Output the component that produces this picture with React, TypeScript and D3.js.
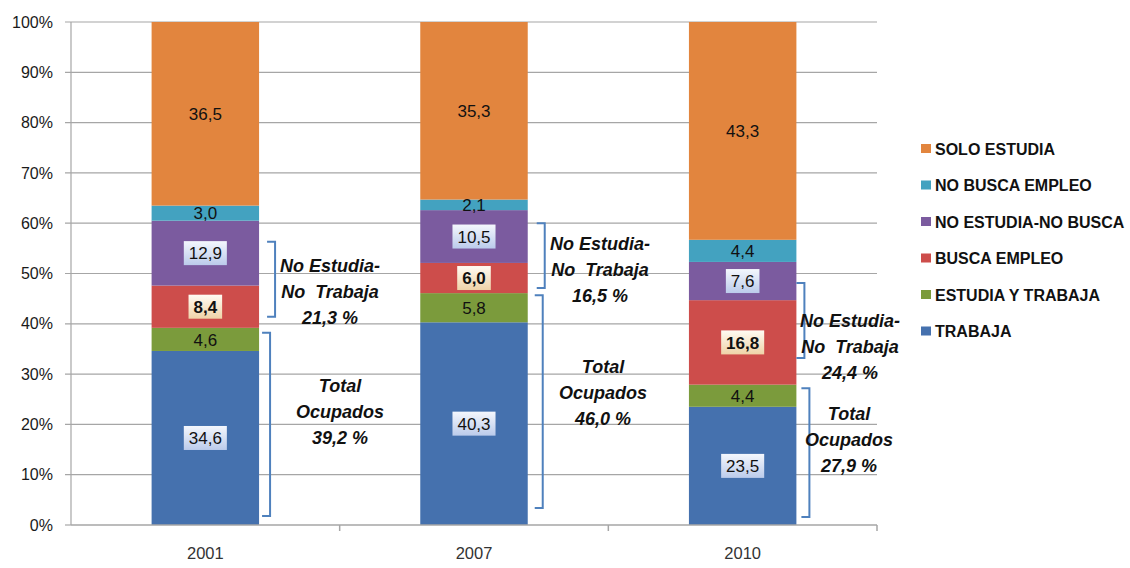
import React from "react";
import * as d3 from "d3";

// categories and series (bottom to top of each bar)
const years = ["2001", "2007", "2010"];
const seriesNames = [
  "TRABAJA",
  "ESTUDIA Y TRABAJA",
  "BUSCA EMPLEO",
  "NO ESTUDIA-NO BUSCA",
  "NO BUSCA EMPLEO",
  "SOLO ESTUDIA",
];
const trabaja = [34.6, 40.3, 23.5];
const estudiaYTrabaja = [4.6, 5.8, 4.4];
const buscaEmpleo = [8.4, 6.0, 16.8];
const noEstudiaNoBusca = [12.9, 10.5, 7.6];
const noBuscaEmpleo = [3.0, 2.1, 4.4];
const soloEstudia = [36.5, 35.3, 43.3];
const totalOcupados = [39.2, 46.0, 27.9];
const noEstudiaNoTrabaja = [21.3, 16.5, 24.4];
const yTicks = [0, 10, 20, 30, 40, 50, 60, 70, 80, 90, 100];

const colors = ["#4571AE", "#7B9B3C", "#CD4D4B", "#7B5B9F", "#43A2C0", "#E2853E"];
// label look per series: plain / blue box / cream bold box
const labelKind = ["blue", "plain", "cream", "blue", "plain", "plain"];

// bracket annotations (percent ranges on the y scale, text centre, x offsets)
const braceLayout = [
  { ni: [41.4, 56.3], oc: [1.8, 38.2], niX: 16, ocX: 11, niText: [330, 46.3], ocText: [340, 22.5] },
  { ni: [47.1, 60.0], oc: [3.4, 45.7], niX: 17, ocX: 15, niText: [600, 50.7], ocText: [603, 26.2] },
  { ni: [33.2, 48.1], oc: [1.6, 27.2], niX: 8, ocX: 13, niText: [850, 35.4], ocText: [849, 16.9] },
];

const W = 1130;
const H = 568;
const margin = { top: 22, left: 71, right: 253, bottom: 43 };
const font = "'Liberation Sans', Arial, sans-serif";

const fmt = (v: number) => d3.format(".1f")(v).replace(".", ",");

export default function App() {
  const x = d3
    .scaleBand()
    .domain(years)
    .range([margin.left, W - margin.right])
    .paddingInner(0.6)
    .paddingOuter(0.3);
  const y = d3.scaleLinear().domain([0, 100]).range([H - margin.bottom, margin.top]);

  const rows = years.map((yr, i) => ({
    year: yr,
    TRABAJA: trabaja[i],
    "ESTUDIA Y TRABAJA": estudiaYTrabaja[i],
    "BUSCA EMPLEO": buscaEmpleo[i],
    "NO ESTUDIA-NO BUSCA": noEstudiaNoBusca[i],
    "NO BUSCA EMPLEO": noBuscaEmpleo[i],
    "SOLO ESTUDIA": soloEstudia[i],
  }));
  const stacked = d3.stack<any>().keys(seriesNames)(rows);

  const step = x.step();
  const bandEdges = years.map((yr) => (x(yr) as number) - (step - x.bandwidth()) / 2);
  bandEdges.push(bandEdges[bandEdges.length - 1] + step);
  const xEnd = bandEdges[bandEdges.length - 1];
  const y0 = y(0);

  return (
    <svg
      width={W}
      height={H}
      style={{ position: "absolute", left: 0, top: 0, background: "#fff" }}
      fontFamily={font}
    >
      <defs>
        <linearGradient id="gBlue" x1="0" y1="0" x2="0" y2="1">
          <stop offset="0" stopColor="#F4F7FD" />
          <stop offset="1" stopColor="#BBCBEB" />
        </linearGradient>
        <linearGradient id="gCream" x1="0" y1="0" x2="0" y2="1">
          <stop offset="0" stopColor="#FFFBF3" />
          <stop offset="1" stopColor="#EFD3A8" />
        </linearGradient>
      </defs>

      {/* gridlines */}
      {yTicks.map((t) => (
        <g key={t}>
          <line x1={margin.left - 6} x2={t === 0 ? margin.left : xEnd} y1={y(t)} y2={y(t)} stroke="#A6A6A6" strokeWidth={1.2} />
          <text x={53} y={y(t)} dy="0.35em" textAnchor="end" fontSize={16} fill="#1a1a1a">
            {t}%
          </text>
        </g>
      ))}
      <line x1={margin.left} x2={margin.left} y1={y(100)} y2={y0} stroke="#A6A6A6" strokeWidth={1.2} />

      {/* bars */}
      {stacked.map((s, si) =>
        s.map((d, i) => (
          <rect
            key={si + "-" + i}
            x={x(years[i])}
            width={x.bandwidth()}
            y={y(d[1])}
            height={y(d[0]) - y(d[1])}
            fill={colors[si]}
          />
        ))
      )}

      {/* x axis */}
      <line x1={margin.left} x2={xEnd} y1={y0} y2={y0} stroke="#A6A6A6" strokeWidth={1.5} />
      {bandEdges.slice(1).map((e, i) => (
        <line key={i} x1={e} x2={e} y1={y0} y2={y0 + 6} stroke="#A6A6A6" strokeWidth={1.5} />
      ))}
      {years.map((yr) => (
        <text key={yr} x={(x(yr) as number) + x.bandwidth() / 2} y={559} textAnchor="middle" fontSize={16.5} fill="#333">
          {yr}
        </text>
      ))}

      {/* value labels */}
      {stacked.map((s, si) =>
        s.map((d, i) => {
          const v = d[1] - d[0];
          const txt = fmt(v);
          const cx = (x(years[i]) as number) + x.bandwidth() / 2;
          const cy = (y(d[0]) + y(d[1])) / 2;
          const kind = labelKind[si];
          const bold = kind === "cream";
          const tw = txt.split("").reduce((a, c) => a + (c === "," ? 4.7 : 9.45), 0);
          const bw = tw + 10;
          const bh = 24;
          return (
            <g key={"l" + si + "-" + i}>
              {kind !== "plain" && (
                <rect
                  x={cx - bw / 2}
                  y={cy - bh / 2}
                  width={bw}
                  height={bh}
                  fill={kind === "blue" ? "url(#gBlue)" : "url(#gCream)"}
                />
              )}
              <text
                x={cx}
                y={cy}
                dy="0.36em"
                textAnchor="middle"
                fontSize={17}
                fontWeight={bold ? "bold" : "normal"}
                fill="#111"
              >
                {txt}
              </text>
            </g>
          );
        })
      )}

      {/* brackets and annotations */}
      {years.map((yr, i) => {
        const L = braceLayout[i];
        const right = (x(yr) as number) + x.bandwidth();
        const bracket = (r: number[], off: number) => {
          const bx = right + off;
          return (
            <path
              d={`M${bx - 8},${y(r[1])}H${bx}V${y(r[0])}H${bx - 8}`}
              fill="none"
              stroke="#4F81BD"
              strokeWidth={2}
            />
          );
        };
        // pos = [centre x, centre of the middle line in percent]
        const block = (lines: string[], pos: number[]) => (
          <text
            x={pos[0]}
            y={y(pos[1])}
            textAnchor="middle"
            fontSize={18}
            fontWeight="bold"
            fontStyle="italic"
            fill="#111"
          >
            {lines.map((ln, k) => (
              <tspan key={k} x={pos[0]} dy={k === 0 ? -20 : 26} style={{ whiteSpace: "pre" }}>
                {ln}
              </tspan>
            ))}
          </text>
        );
        return (
          <g key={"b" + yr}>
            {bracket(L.ni, L.niX)}
            {bracket(L.oc, L.ocX)}
            {block(["No Estudia-", "No  Trabaja", fmt(noEstudiaNoTrabaja[i]) + " %"], L.niText)}
            {block(["Total", "Ocupados", fmt(totalOcupados[i]) + " %"], L.ocText)}
          </g>
        );
      })}

      {/* legend (top to bottom = top of stack first) */}
      {seriesNames
        .map((n, i) => ({ n, c: colors[i] }))
        .reverse()
        .map((it, k) => (
          <g key={it.n} transform={`translate(921,${149 + k * 36.5})`}>
            <rect x={0} y={-5} width={10} height={9} fill={it.c} />
            <text x={14} y={0} dy="0.36em" fontSize={16} fontWeight="bold" fill="#111">
              {it.n}
            </text>
          </g>
        ))}
    </svg>
  );
}
